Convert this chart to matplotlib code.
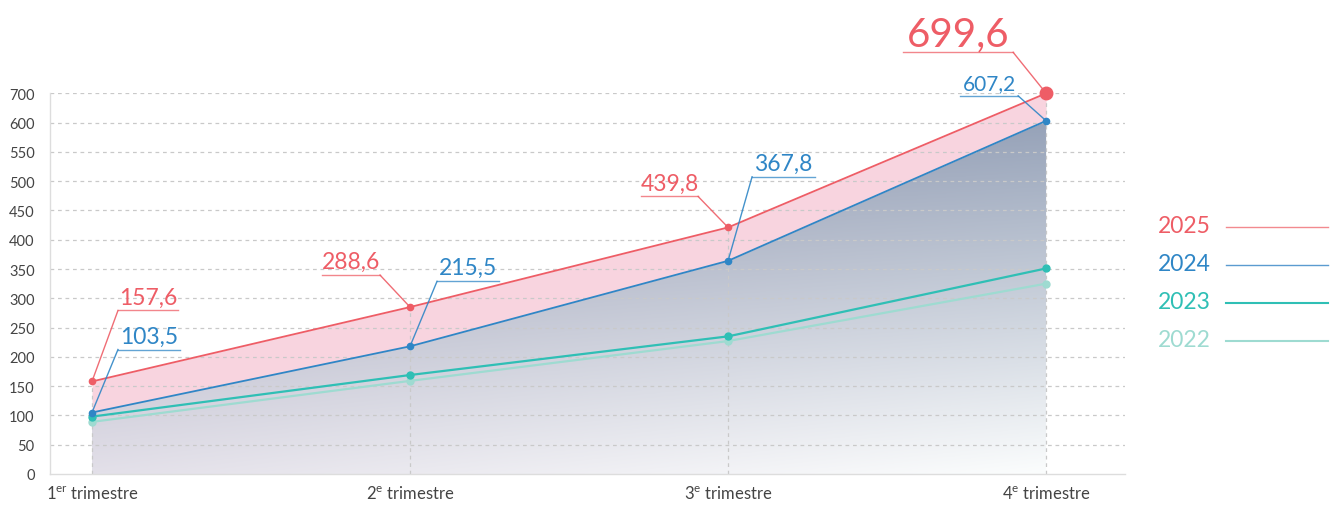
import numpy as np
import matplotlib.pyplot as plt
from matplotlib.colors import to_rgb
from matplotlib.patches import Polygon
from matplotlib.lines import Line2D
from matplotlib.transforms import IdentityTransform

plt.rcParams['font.family'] = ['Lato', 'DejaVu Sans']
plt.rcParams['mathtext.fontset'] = 'custom'
plt.rcParams['mathtext.rm'] = 'Lato'

# data (as drawn in the reference)
quarters = ['1$^{\\mathrm{er}}$ trimestre', '2$^{\\mathrm{e}}$ trimestre',
            '3$^{\\mathrm{e}}$ trimestre', '4$^{\\mathrm{e}}$ trimestre']
v2025 = [158, 285, 421, 650]
v2024 = [105, 218, 364, 603]
v2023 = [98, 169, 235, 351]
v2022 = [89, 159, 227, 325]
labels2025 = ['157,6', '288,6', '439,8', '699,6']
labels2024 = ['103,5', '215,5', '367,8', '607,2']
yticks = [0, 50, 100, 150, 200, 250, 300, 350, 400, 450, 500, 550, 600, 650]
ytick_labels = ['0', '50', '100', '150', '200', '250', '300', '350', '400',
                '450', '500', '550', '600', '700']
years = ['2025', '2024', '2023', '2022']

RED = '#ee5d66'
BLUE = '#2f86c6'
TEAL = '#2fbfb5'
LTEAL = '#9edbd1'
GRID = '#c9c9c9'

W, H = 1335, 506
fig = plt.figure(figsize=(W / 100, H / 100), dpi=100)
ax = fig.add_axes([50 / W, 1 - 475 / H, (1125 - 50) / W, (475 - 94.3) / H])
ax.set_xlim(-0.132, 3.248)
ax.set_ylim(0, 650)

x = np.arange(len(quarters))

# gradient area under 2024
corners = {'tl': '#8a8fa8', 'tr': '#8e9bb3', 'bl': '#e3e0e9', 'br': '#fbfdfd'}
ny, nx = 200, 200
ty = np.linspace(1, 0, ny)[:, None, None]
tx = np.linspace(0, 1, nx)[None, :, None]
tl, tr = np.array(to_rgb(corners['tl'])), np.array(to_rgb(corners['tr']))
bl, br = np.array(to_rgb(corners['bl'])), np.array(to_rgb(corners['br']))
top = tl * (1 - tx) + tr * tx
bot = bl * (1 - tx) + br * tx
img = bot * (1 - ty) + top * ty
poly = Polygon(list(zip([0] + list(x) + [3], [0] + v2024 + [0])), closed=True,
               facecolor='none', edgecolor='none')
ax.add_patch(poly)
im = ax.imshow(img, extent=[0, 3, 0, 650], aspect='auto', origin='upper', zorder=1)
im.set_clip_path(poly)

# pink band between 2025 and 2024
ax.fill_between(x, v2024, v2025, color='#f8d4df', lw=0, zorder=1)

# grid
for yv in yticks[1:]:
    ax.axhline(yv, color=GRID, lw=0.9, ls=(0, (3, 3)), zorder=2)
for xi, yv in zip(x, v2025):
    ax.plot([xi, xi], [0, yv], color=GRID, lw=0.9, ls=(0, (3, 3)), zorder=2)

# lines
ax.plot(x, v2022, color=LTEAL, lw=1.6, marker='o', ms=5, zorder=3)
ax.plot(x, v2023, color=TEAL, lw=1.6, marker='o', ms=5, zorder=3)
ax.plot(x, v2024, color=BLUE, lw=1.3, marker='o', ms=4.5, zorder=4)
ax.plot(x, v2025, color=RED, lw=1.3, zorder=4, clip_on=False)
ax.plot(x[:3], v2025[:3], 'o', color=RED, ms=4.5, zorder=5)
ax.plot(x[3], v2025[3], 'o', color=RED, ms=9, zorder=5, clip_on=False)

for s in ['top', 'right']:
    ax.spines[s].set_visible(False)
for s in ['left', 'bottom']:
    ax.spines[s].set_color('#dddddd')
    ax.spines[s].set_linewidth(1)

ax.set_yticks(yticks)
ax.set_yticklabels(ytick_labels, fontsize=10.5, color='#444444')
ax.set_xticks(x)
ax.set_xticklabels(quarters, fontsize=12, color='#444444')
ax.tick_params(axis='y', length=0, pad=11)
ax.tick_params(axis='x', length=0, pad=8)

# callouts: (dx, dy, underline length, anchor side, font size) in pixels
lay2025 = [(26, 71, 60, 'left', 16.5), (-30, 32, 58, 'right', 16.5),
           (-30, 31, 57, 'right', 16.5), (-33, 41, 110, 'right', 29)]
lay2024 = [(26, 63, 62, 'left', 16.5), (27, 65, 62, 'left', 16.5),
           (24, 84, 63, 'left', 16.5), (-28, 25, 58, 'right', 15)]

ident = IdentityTransform()


def callout(xv, yv, text, color, lay):
    dx, dy, length, side, size = lay
    px, py = ax.transData.transform((xv, yv))
    axp, ayp = px + dx, py + dy
    if side == 'left':
        x1, x2 = axp, axp + length
    else:
        x1, x2 = axp - length, axp
    fig.add_artist(Line2D([px, axp], [py, ayp], color=color, lw=1, transform=ident, alpha=0.9))
    fig.add_artist(Line2D([x1, x2], [ayp, ayp], color=color, lw=1, transform=ident, alpha=0.75))
    fig.text((x1 + x2) / 2, ayp + 7, text, color=color, fontsize=size,
             ha='center', va='baseline', transform=ident)


for xi, yv, t, lay in zip(x, v2025, labels2025, lay2025):
    callout(xi, yv, t, RED, lay)
for xi, yv, t, lay in zip(x, v2024, labels2024, lay2024):
    callout(xi, yv, t, BLUE, lay)

# legend
leg_colors = [RED, BLUE, TEAL, LTEAL]
leg_line_colors = ['#f28a8f', '#5b9bd0', TEAL, LTEAL]
leg_lw = [1, 1, 1.5, 1.5]
for i, (yr, c, lc, lw) in enumerate(zip(years, leg_colors, leg_line_colors, leg_lw)):
    yy = H - (227 + 38 * i)
    fig.text(1211, yy, yr, color=c, fontsize=16.5, ha='right', va='center', transform=ident)
    fig.add_artist(Line2D([1226, 1328], [yy - 1, yy - 1], color=lc, lw=lw, transform=ident))

fig.savefig('out.png', dpi=100)
